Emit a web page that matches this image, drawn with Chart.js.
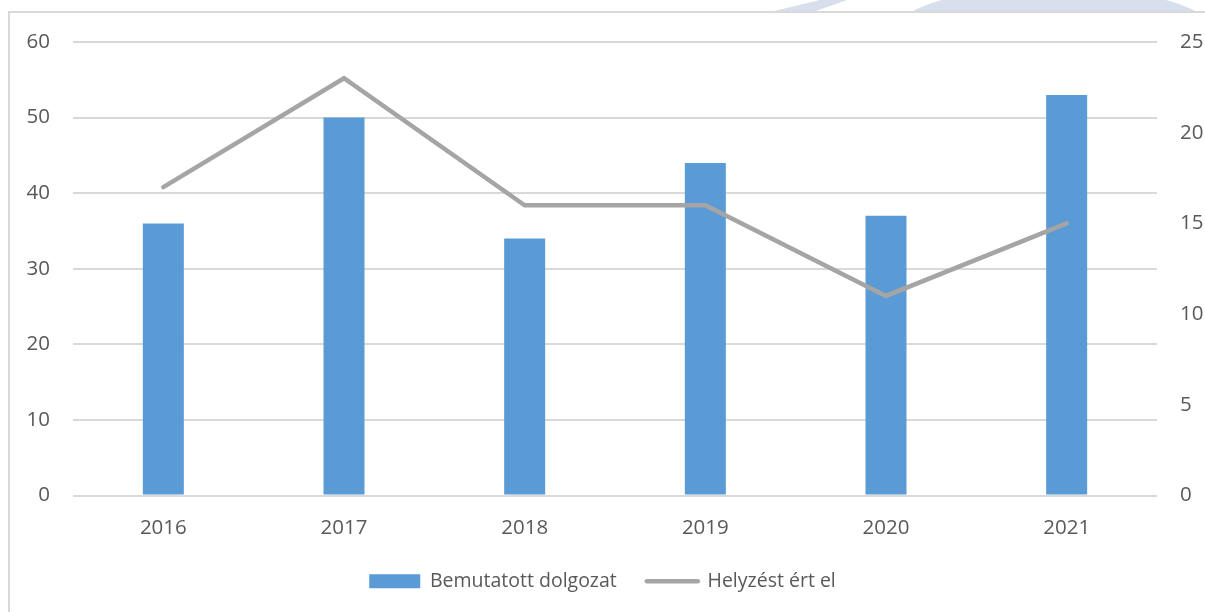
<!DOCTYPE html>
<html>
<head>
<meta charset="utf-8">
<script src="https://cdn.jsdelivr.net/npm/chart.js@4/dist/chart.umd.min.js"></script>
<style>
  html, body { margin: 0; padding: 0; background: #fff; overflow: hidden; }
  #wrap { position: relative; width: 1205px; height: 612px; }
  #mark { position: absolute; left: 0; top: 0; width: 1205px; height: 11px; overflow: hidden; }
  .blob { position: absolute; background: #d6dfeb; }
  #frame { position: absolute; left: 8px; top: 11px; width: 1220px; height: 640px;
           border: 2px solid #d9d9d9; box-sizing: border-box; }
  canvas { position: absolute; left: 0; top: 0; }
</style>
</head>
<body>
<div id="wrap">
  <div id="mark">
    <div class="blob" style="left:0; top:0; width:1205px; height:11px;
         clip-path: polygon(774px 11px, 816px 11px, 847px 0, 820px 0);"></div>
    <div class="blob" style="left:894px; top:-13px; width:320px; height:91px; border-radius:50%;"></div>
  </div>
  <div id="frame"></div>
  <canvas id="chart" width="1205" height="612"></canvas>
</div>
<script>
const years = ['2016', '2017', '2018', '2019', '2020', '2021'];
const presented = [36, 50, 34, 44, 37, 53];
const placed = [17, 23, 16, 16, 11, 15];

const FONT = "'Open Sans', sans-serif";
const TEXT = '#595959';
const GRID = '#d9d9d9';

Chart.defaults.font.family = FONT;
Chart.defaults.color = TEXT;

new Chart(document.getElementById('chart'), {
  data: {
    labels: years,
    datasets: [
      {
        type: 'bar',
        label: 'Bemutatott dolgozat',
        data: presented,
        backgroundColor: '#5b9bd5',
        yAxisID: 'y',
        categoryPercentage: 1,
        barPercentage: 0.227,
        order: 1
      },
      {
        type: 'line',
        label: 'Helyzést ért el',
        data: placed,
        borderColor: '#a5a5a5',
        backgroundColor: '#a5a5a5',
        borderWidth: 4.5,
        borderCapStyle: 'round',
        pointRadius: 0,
        tension: 0,
        yAxisID: 'y1',
        order: 0
      }
    ]
  },
  options: {
    responsive: false,
    animation: false,
    layout: { padding: { top: 42, left: 0, right: 0, bottom: 11 } },
    plugins: {
      tooltip: { enabled: false },
      legend: {
        position: 'bottom',
        labels: {
          font: { size: 19.5, family: FONT },
          color: TEXT,
          usePointStyle: true,
          pointStyleWidth: 51,
          boxHeight: 14,
          padding: 30,
          sort: (a, b) => a.datasetIndex - b.datasetIndex,
          generateLabels(chart) {
            const items = Chart.defaults.plugins.legend.labels.generateLabels(chart);
            items.forEach(it => {
              if (it.datasetIndex === 0) { it.pointStyle = 'rect'; it.lineWidth = 0; }
              else { it.pointStyle = 'line'; it.lineWidth = 4.5; it.lineCap = 'round'; }
            });
            return items;
          }
        }
      }
    },
    scales: {
      x: {
        grid: { display: false },
        border: { display: false },
        ticks: { font: { size: 20.5 }, color: TEXT, padding: 12 },
        afterFit(scale) { scale.height = 46; }
      },
      y: {
        position: 'left',
        min: 0, max: 60,
        ticks: { stepSize: 10, font: { size: 20.5 }, color: TEXT, padding: 23 },
        grid: { color: GRID, lineWidth: 2, drawTicks: false },
        border: { display: false },
        afterFit(scale) { scale.width = 73; }
      },
      y1: {
        position: 'right',
        min: 0, max: 25,
        ticks: { stepSize: 5, font: { size: 20.5 }, color: TEXT, padding: 15 },
        grid: { display: false },
        border: { display: false },
        afterFit(scale) { scale.width = 48; }
      }
    }
  }
});
</script>
</body>
</html>
